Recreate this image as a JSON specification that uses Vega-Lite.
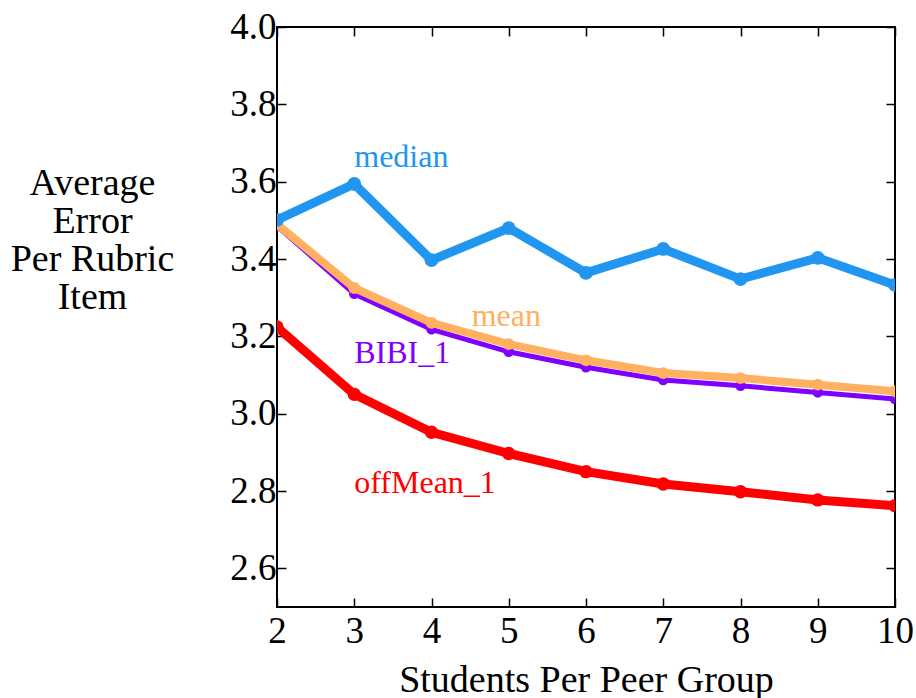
{
  "$schema": "https://vega.github.io/schema/vega-lite/v6.json",
  "width": 618,
  "height": 580,
  "autosize": {"type": "none"},
  "padding": {"left": 277, "top": 27, "right": 21, "bottom": 91},
  "background": "white",
  "config": {
    "view": {"stroke": "black", "strokeWidth": 2},
    "font": "Liberation Serif",
    "axis": {
      "domain": false,
      "grid": false,
      "ticks": true,
      "tickColor": "black",
      "tickWidth": 1.5,
      "tickSize": -9,
      "labelFlush": false,
      "labelOverlap": false,
      "labelFont": "Liberation Serif",
      "labelFontSize": 37,
      "labelColor": "black",
      "titleFont": "Liberation Serif",
      "titleFontSize": 38,
      "titleFontWeight": "normal",
      "titleColor": "black"
    }
  },
  "datasets": {
    "lines": [
      {"series": "BIBI_1", "x": 2, "y": 3.485},
      {"series": "BIBI_1", "x": 3, "y": 3.31},
      {"series": "BIBI_1", "x": 4, "y": 3.218},
      {"series": "BIBI_1", "x": 5, "y": 3.16},
      {"series": "BIBI_1", "x": 6, "y": 3.12},
      {"series": "BIBI_1", "x": 7, "y": 3.087},
      {"series": "BIBI_1", "x": 8, "y": 3.072},
      {"series": "BIBI_1", "x": 9, "y": 3.055},
      {"series": "BIBI_1", "x": 10, "y": 3.038},
      {"series": "mean", "x": 2, "y": 3.49},
      {"series": "mean", "x": 3, "y": 3.325},
      {"series": "mean", "x": 4, "y": 3.235},
      {"series": "mean", "x": 5, "y": 3.18},
      {"series": "mean", "x": 6, "y": 3.138},
      {"series": "mean", "x": 7, "y": 3.105},
      {"series": "mean", "x": 8, "y": 3.092},
      {"series": "mean", "x": 9, "y": 3.075},
      {"series": "mean", "x": 10, "y": 3.058},
      {"series": "median", "x": 2, "y": 3.501},
      {"series": "median", "x": 3, "y": 3.594},
      {"series": "median", "x": 4, "y": 3.397},
      {"series": "median", "x": 5, "y": 3.48},
      {"series": "median", "x": 6, "y": 3.364},
      {"series": "median", "x": 7, "y": 3.426},
      {"series": "median", "x": 8, "y": 3.348},
      {"series": "median", "x": 9, "y": 3.403},
      {"series": "median", "x": 10, "y": 3.333},
      {"series": "offMean_1", "x": 2, "y": 3.224},
      {"series": "offMean_1", "x": 3, "y": 3.05},
      {"series": "offMean_1", "x": 4, "y": 2.952},
      {"series": "offMean_1", "x": 5, "y": 2.897},
      {"series": "offMean_1", "x": 6, "y": 2.85},
      {"series": "offMean_1", "x": 7, "y": 2.818},
      {"series": "offMean_1", "x": 8, "y": 2.798},
      {"series": "offMean_1", "x": 9, "y": 2.777},
      {"series": "offMean_1", "x": 10, "y": 2.762}
    ],
    "labels": [
      {"series": "median", "x": 3.0, "y": 3.664, "label": "median"},
      {"series": "mean", "x": 4.52, "y": 3.253, "label": "mean"},
      {"series": "BIBI_1", "x": 3.0, "y": 3.158, "label": "BIBI_1"},
      {"series": "offMean_1", "x": 3.0, "y": 2.82, "label": "offMean_1"}
    ]
  },
  "resolve": {"axis": {"x": "independent", "y": "independent"}},
  "layer": [
    {
      "data": {"name": "lines"},
      "transform": [{"filter": "datum.series === 'BIBI_1'"}],
      "mark": {"type": "line", "strokeWidth": 5, "clip": true, "point": {"filled": true, "size": 110, "opacity": 1}},
      "encoding": {
        "x": {"field": "x", "type": "quantitative", "scale": {"domain": [2, 10], "nice": false, "zero": false},
          "axis": {"orient": "bottom", "values": [2, 3, 4, 5, 6, 7, 8, 9, 10], "format": "d", "labelPadding": 15, "title": "Students Per Peer Group", "titlePadding": 12}},
        "y": {"field": "y", "type": "quantitative", "scale": {"domain": [2.5, 4.0], "nice": false, "zero": false},
          "axis": {"orient": "left", "values": [2.6, 2.8, 3.0, 3.2, 3.4, 3.6, 3.8, 4.0], "format": ".1f", "labelPadding": 10,
            "title": ["Average", "Error", "Per Rubric", "Item"], "titleAngle": 0, "titleAlign": "center", "titleBaseline": "middle",
            "titleX": -185, "titleY": 156, "titleLineHeight": 38}},
        "color": {"field": "series", "type": "nominal", "legend": null,
          "scale": {"domain": ["median", "mean", "BIBI_1", "offMean_1"], "range": ["#2196f0", "#ffb060", "#8000ff", "#ff0000"]}}
      }
    },
    {
      "data": {"name": "lines"},
      "transform": [{"filter": "datum.series === 'mean'"}],
      "mark": {"type": "line", "strokeWidth": 8, "clip": true, "point": {"filled": true, "size": 140, "opacity": 1}},
      "encoding": {
        "x": {"field": "x", "type": "quantitative", "axis": null},
        "y": {"field": "y", "type": "quantitative", "axis": null},
        "color": {"field": "series", "type": "nominal", "legend": null}
      }
    },
    {
      "data": {"name": "lines"},
      "transform": [{"filter": "datum.series === 'median'"}],
      "mark": {"type": "line", "strokeWidth": 9, "clip": true, "point": {"filled": true, "size": 190, "opacity": 1}},
      "encoding": {
        "x": {"field": "x", "type": "quantitative", "axis": null},
        "y": {"field": "y", "type": "quantitative", "axis": null},
        "color": {"field": "series", "type": "nominal", "legend": null}
      }
    },
    {
      "data": {"name": "lines"},
      "transform": [{"filter": "datum.series === 'offMean_1'"}],
      "mark": {"type": "line", "strokeWidth": 9, "clip": true, "point": {"filled": true, "size": 180, "opacity": 1}},
      "encoding": {
        "x": {"field": "x", "type": "quantitative", "axis": null},
        "y": {"field": "y", "type": "quantitative", "axis": null},
        "color": {"field": "series", "type": "nominal", "legend": null}
      }
    },
    {
      "data": {"name": "labels"},
      "mark": {"type": "text", "align": "left", "baseline": "middle", "fontSize": 32, "font": "Liberation Serif"},
      "encoding": {
        "x": {"field": "x", "type": "quantitative",
          "axis": {"orient": "top", "values": [2, 3, 4, 5, 6, 7, 8, 9, 10], "labels": false, "title": null}},
        "y": {"field": "y", "type": "quantitative",
          "axis": {"orient": "right", "values": [2.6, 2.8, 3.0, 3.2, 3.4, 3.6, 3.8, 4.0], "labels": false, "title": null}},
        "text": {"field": "label"},
        "color": {"field": "series", "type": "nominal", "legend": null}
      }
    }
  ]
}
